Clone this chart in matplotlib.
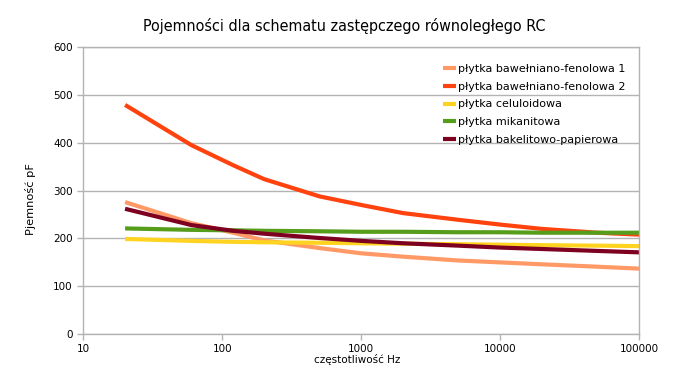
import matplotlib
matplotlib.use("Agg")
import matplotlib.pyplot as plt
from matplotlib.ticker import FixedLocator, FixedFormatter, NullLocator

freq = [20, 60, 120, 200, 500, 1000, 2000, 5000, 10000, 20000, 50000, 100000]
bf1 = [276, 232, 212, 196, 180, 169, 162, 154, 150, 146, 141, 137]
bf2 = [479, 395, 353, 324, 288, 270, 253, 239, 229, 220, 212, 208]
celul = [199, 195, 193, 192, 191, 190, 189, 188, 187, 186, 185, 184]
mikan = [221, 218, 217, 216, 215, 214, 214, 213, 213, 212, 212, 212]
bakel = [262, 228, 216, 210, 201, 195, 190, 185, 181, 178, 174, 171]

names = ["płytka bawełniano-fenolowa 1", "płytka bawełniano-fenolowa 2",
         "płytka celuloidowa", "płytka mikanitowa", "płytka bakelitowo-papierowa"]
colors = ["#ff9966", "#ff420e", "#ffd320", "#579d1c", "#7e0021"]
series = [bf1, bf2, celul, mikan, bakel]

xticks = [10, 100, 1000, 10000, 100000]
xticklabels = ["10", "100", "1000", "10000", "100000"]
yticks = [0, 100, 200, 300, 400, 500, 600]

fig = plt.figure(figsize=(6.88, 3.73), dpi=100)
ax = fig.add_axes([0.121, 0.104, 0.808, 0.770])

for vals, c, n in zip(series, colors, names):
    ax.plot(freq, vals, color=c, lw=3.0, label=n, solid_capstyle="butt")

ax.set_xscale("log")
ax.set_xlim(10, 100000)
ax.set_ylim(0, 600)
ax.xaxis.set_major_locator(FixedLocator(xticks))
ax.xaxis.set_major_formatter(FixedFormatter(xticklabels))
ax.xaxis.set_minor_locator(NullLocator())
ax.set_yticks(yticks)
ax.yaxis.grid(True, color="#b3b3b3", lw=1)
ax.set_axisbelow(True)
for s in ax.spines.values():
    s.set_color("#b3b3b3")
    s.set_linewidth(1)
ax.tick_params(axis="both", colors="#b3b3b3", labelcolor="black", labelsize=7.5,
               length=4, width=1, direction="out")
ax.tick_params(axis="x", pad=3)

fig.text(0.5, 0.93, "Pojemności dla schematu zastępczego równoległego RC",
         ha="center", va="center", fontsize=11.5, family="DejaVu Sans",
         stretch="condensed")
fig.text(0.519, 0.035, "częstotliwość Hz", ha="center", va="center", fontsize=7.5)
fig.text(0.044, 0.466, "Pjemność pF", ha="center", va="center", rotation=90, fontsize=8.2)

leg = ax.legend(loc="upper left", bbox_to_anchor=(0.64, 0.955), frameon=False,
                fontsize=8, handlelength=1.1, handletextpad=0.2,
                labelspacing=0.68, borderaxespad=0)

fig.savefig("out.png", dpi=100)
